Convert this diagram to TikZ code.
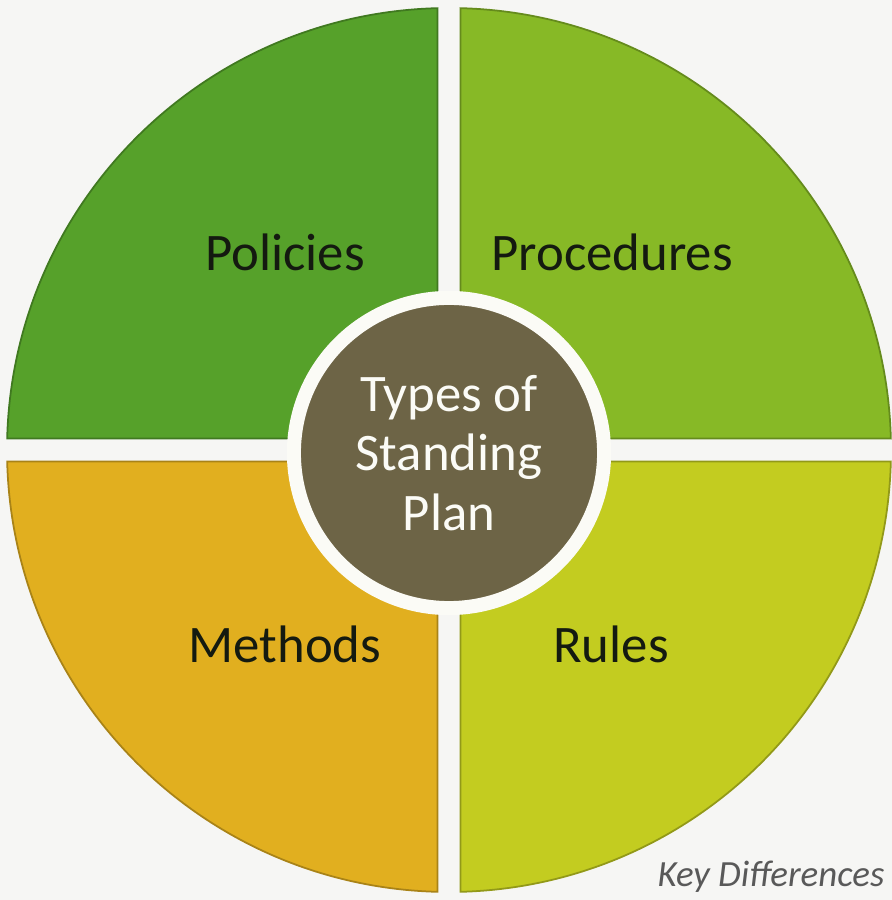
\documentclass[tikz,border=0pt]{standalone}
\usepackage{fontspec}
\setmainfont{Carlito}
\usepackage{tikz}

\definecolor{backgray}{HTML}{F6F6F4}
\definecolor{ringwhite}{HTML}{FBFBF6}
\definecolor{policygreen}{HTML}{56A12A}
\definecolor{proceduregreen}{HTML}{87B926}
\definecolor{methodyellow}{HTML}{E1AF1F}
\definecolor{rulelime}{HTML}{C3CC20}
\definecolor{plancentre}{HTML}{6D6446}
\definecolor{labeldark}{HTML}{141A10}

\tikzset{
  quarter/.style={line width=0.5pt},
  plantext/.style={font=\fontsize{15}{17}\selectfont, text=labeldark, anchor=base},
}

\begin{document}
\begin{tikzpicture}[x=0.01cm,y=0.01cm]
\begin{scope}[scale=1]

\fill[backgray] (0,0) rectangle (892,900);
\useasboundingbox (0,0) rectangle (892,900);

% the four quarters, cut apart by a white cross
\foreach \ang/\col in {0/proceduregreen, 90/policygreen, 180/methodyellow, 270/rulelime}
\filldraw[quarter, fill=\col, draw=\col!75!black, rotate around={\ang:(449,450)}]
  (460.5,461.5) -- ([shift={(449,450)}]88.5:442) arc[start angle=88.5, end angle=1.5, radius=442] -- cycle;

%\draw[red] (449,450) circle (442);

% centre
\node[circle, fill=plancentre, draw=ringwhite, line width=0.14cm, minimum size=3.1cm, inner sep=0pt,
      align=center, text=ringwhite, font=\fontsize{15}{17}\selectfont] (plan) at (449,447)
      {Types of\\Standing\\Plan};

\node[plantext] (policies) at (285,629) {Policies};
\node[plantext] (procedures) at (612,629) {Procedures};
\node[plantext] (methods) at (285,237) {Methods};
\node[plantext] (rules) at (611,237) {Rules};

\node[font=\fontsize{10.5}{12}\selectfont\itshape, text=black!65, anchor=base] (keydiff) at (771,14) {Key Differences};

\end{scope}
\end{tikzpicture}
\end{document}
